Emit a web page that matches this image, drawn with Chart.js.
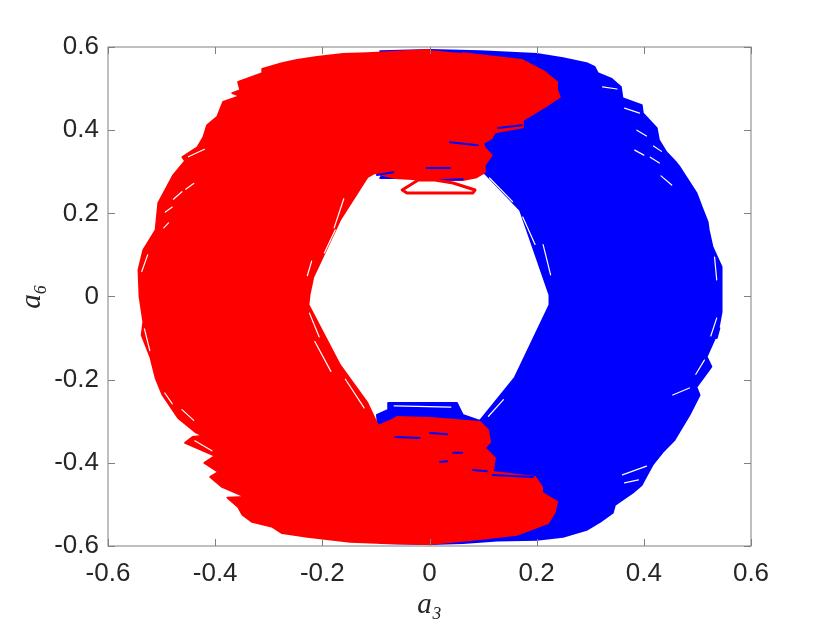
<!DOCTYPE html>
<html>
<head>
<meta charset="utf-8">
<style>
    html, body { margin: 0; padding: 0; background: #fff; }
    #wrap { position: relative; width: 830px; height: 623px; }
</style>
<script src="https://cdn.jsdelivr.net/npm/chart.js@4"></script>
</head>
<body>
<div id="wrap"><canvas id="phaseChart" width="830" height="623"></canvas></div>
<script>
// Tick labels
const tickLabels = ['-0.6', '-0.4', '-0.2', '0', '0.2', '0.4', '0.6'];

// Blue trajectory: outline of the covered area
const blueX = [-.092, .001, .094, .200, .249, .293, .308, .314, .340, .357, .360, .396, .398, .424, .428, .442, .461, .467, .498, .508, .519, .521, .528, .545, .545, .545, .536, .541, .517, .526, .498, .504, .485, .457, .435, .416, .396, .379, .346, .342, .318, .293, .249, .200, .126, .062, .001, -.092, -.096, -.098, -.077, -.077, .051, .062, .094, .159, .224, .224, .169, .103, .001, -.092];
const blueY = [.590, .593, .590, .583, .573, .561, .552, .537, .523, .504, .477, .460, .441, .405, .376, .347, .321, .311, .249, .215, .179, .160, .119, .071, .032, -.037, -.100, -.076, -.145, -.169, -.218, -.237, -.285, -.345, -.374, -.405, -.453, -.472, -.501, -.520, -.542, -.561, -.578, -.585, -.587, -.593, -.595, -.593, -.311, -.285, -.273, -.256, -.256, -.285, -.299, -.196, -.020, .004, .208, .297, .285, .285];

// Red trajectory: outline of the covered area
const redX = [-.001, -.116, -.161, -.210, -.247, -.275, -.312, -.312, -.357, -.353, -.368, -.353, -.385, -.396, -.415, -.422, -.433, -.461, -.456, -.478, -.493, -.506, -.511, -.534, -.543, -.541, -.534, -.537, -.521, -.511, -.498, -.469, -.437, -.422, -.442, -.456, -.400, -.420, -.394, -.409, -.387, -.344, -.377, -.357, -.349, -.331, -.293, -.275, -.228, -.180, -.148, -.087, -.001, .081, .163, .221, .234, .238, .210, .210, .197, .118, .122, .103, .113, .109, .094, .001, -.061, -.070, -.096, -.116, -.167, -.226, -.224, -.217, -.167, -.116, -.102, -.064, .001, .062, .088, .103, .103, .116, .103, .100, .116, .122, .174, .174, .215, .243, .238, .238, .215, .172, .062];
const redY = [.593, .585, .583, .576, .569, .561, .547, .537, .516, .496, .489, .482, .468, .432, .412, .383, .359, .335, .326, .292, .256, .225, .160, .112, .064, -.001, -.061, -.093, -.145, -.196, -.237, -.292, -.326, -.335, -.338, -.352, -.383, -.400, -.422, -.434, -.458, -.482, -.484, -.506, -.525, -.542, -.554, -.569, -.578, -.585, -.590, -.593, -.595, -.585, -.573, -.545, -.518, -.494, -.472, -.458, -.434, -.422, -.388, -.364, -.350, -.321, -.302, -.292, -.290, -.297, -.311, -.256, -.165, -.020, .004, .047, .184, .287, .297, .285, .280, .280, .287, .299, .316, .340, .357, .369, .381, .395, .407, .424, .456, .480, .496, .516, .540, .569, .585];

// The single red loop hanging into the hole
const loopX = [-.021, -.051, -.042, .081, .085, .044, .010, -.021];
const loopY = [.280, .256, .249, .249, .256, .273, .280, .280];

// White gaps between the blue strokes, null breaks the line
const blueGapX = [.112, .155, null, .174, .197, null, .212, .226, null, .532, .536, null, .323, .350, null, .364, .392, null, .387, .405, null, .418, .433, null, .383, .400, null, .412, .429, null, .432, .452, null, .536, .525, null, .513, .497, null, .454, .485, null, .360, .405, null, .364, .390, null, .206, .190, null, .110, .138, null, -.066, .040];
const blueGapY = [.285, .228, null, .191, .125, null, .125, .052, null, .095, .040, null, .504, .499, null, .453, .441, null, .400, .386, null, .362, .349, null, .352, .340, null, .335, .321, null, .290, .268, null, -.052, -.095, null, -.153, -.187, null, -.237, -.220, null, -.429, -.408, null, -.448, -.441, null, -.044, -.090, null, -.288, -.248, null, -.263, -.266];

// White gaps between the red strokes
const redGapX = [-.478, -.462, null, -.455, -.440, null, -.496, -.487, null, -.493, -.480, null, -.537, -.526, null, -.196, -.176, null, -.178, -.160, null, -.228, -.220, null, -.450, -.420, null, -.532, -.522, null, -.494, -.480, null, -.224, -.206, null, -.214, -.184, null, -.157, -.122, null, -.438, -.406, null, -.462, -.440];
const redGapY = [.234, .252, null, .258, .272, null, .165, .177, null, .203, .215, null, .060, .100, null, .105, .160, null, .165, .235, null, .050, .085, null, .336, .354, null, -.078, -.130, null, -.232, -.258, null, -.040, -.097, null, -.108, -.180, null, -.199, -.268, null, -.347, -.371, null, -.272, -.298];

// Blue strokes showing through the red area
const blueShowX = [.128, .172, null, .038, .090, null, -.098, -.068, null, -.005, .038, null, .020, .062, null, -.064, -.018, null, .001, .033, null, .044, .061, null, .081, .107, null, .020, .033, null, .118, .193];
const blueShowY = [.405, .412, null, .371, .364, null, .292, .299, null, .309, .309, null, .280, .282, null, -.338, -.340, null, -.328, -.331, null, -.376, -.376, null, -.417, -.420, null, -.398, -.396, null, -.429, -.434];

const BLUE = '#0000ff';
const RED = '#ff0000';
const AXIS_COLOR = '#808080';
const TEXT_COLOR = '#262626';

function toPoints(xs, ys) {
    return xs.map((x, i) => ({ x: x, y: ys[i] }));
}

// Line dataset, drawn back to front according to "order"
function lineSet(label, xs, ys, color, width, order, filled) {
    return {
        label: label,
        data: toPoints(xs, ys),
        showLine: true,
        borderColor: color,
        backgroundColor: color,
        borderWidth: width,
        borderJoinStyle: 'round',
        borderCapStyle: 'round',
        pointRadius: 0,
        tension: 0,
        fill: filled ? 'shape' : false,
        spanGaps: false,
        order: order
    };
}

// MATLAB style box with ticks pointing inwards
const boxAxes = {
    id: 'boxAxes',
    afterDatasetsDraw(chart) {
        const { ctx, chartArea: a, scales } = chart;
        ctx.save();
        ctx.strokeStyle = AXIS_COLOR;
        ctx.lineWidth = 1;
        ctx.beginPath();
        scales.x.ticks.forEach(t => {
            const px = Math.round(scales.x.getPixelForValue(t.value)) + 0.5;
            ctx.moveTo(px, a.bottom); ctx.lineTo(px, a.bottom - 7);
            ctx.moveTo(px, a.top); ctx.lineTo(px, a.top + 7);
        });
        scales.y.ticks.forEach(t => {
            const py = Math.round(scales.y.getPixelForValue(t.value)) + 0.5;
            ctx.moveTo(a.left, py); ctx.lineTo(a.left + 7, py);
            ctx.moveTo(a.right, py); ctx.lineTo(a.right - 7, py);
        });
        ctx.stroke();
        ctx.strokeRect(a.left, a.top, a.right - a.left, a.bottom - a.top);
        ctx.restore();
    }
};

function axisOptions(titleText, size, tickPadding, titlePadding) {
    return {
        type: 'linear',
        min: -0.6,
        max: 0.6,
        afterBuildTicks(scale) {
            scale.ticks = tickLabels.map((_, i) => ({ value: -0.6 + i * 0.2 }));
        },
        afterFit(scale) {
            if (scale.isHorizontal()) scale.height = size;
            else scale.width = size;
        },
        grid: { display: false, drawTicks: false },
        border: { display: false },
        ticks: {
            color: TEXT_COLOR,
            padding: tickPadding,
            maxRotation: 0,
            autoSkip: false,
            font: { family: "'Liberation Sans', sans-serif", size: 26 },
            callback: (value, index) => tickLabels[index]
        },
        title: {
            display: true,
            text: titleText,
            color: TEXT_COLOR,
            padding: titlePadding,
            font: { family: "'Liberation Serif', serif", size: 29, style: 'italic', weight: 'normal' }
        }
    };
}

document.addEventListener('DOMContentLoaded', () => {
    const ctx = document.getElementById('phaseChart');

    new Chart(ctx, {
        type: 'scatter',
        data: {
            datasets: [
                lineSet('blue', blueX, blueY, BLUE, 2, 6, true),
                lineSet('blue gaps', blueGapX, blueGapY, '#ffffff', 1.2, 5, false),
                lineSet('blue show', blueShowX, blueShowY, BLUE, 2, 2, false),
                lineSet('red', redX, redY, RED, 2, 4, true),
                lineSet('red gaps', redGapX, redGapY, '#ffffff', 1.2, 3, false),
                lineSet('red loop', loopX, loopY, RED, 3, 1, false)
            ]
        },
        options: {
            responsive: false,
            animation: false,
            layout: { padding: { left: 15, top: 47, right: 79, bottom: 0 } },
            plugins: {
                legend: { display: false },
                tooltip: { enabled: false }
            },
            scales: {
                x: axisOptions('a₃', 77, 12, { top: 10, bottom: 0 }),
                y: axisOptions('a₆', 93, 9, { top: 0, bottom: 10 })
            }
        },
        plugins: [boxAxes]
    });
});
</script>
</body>
</html>
